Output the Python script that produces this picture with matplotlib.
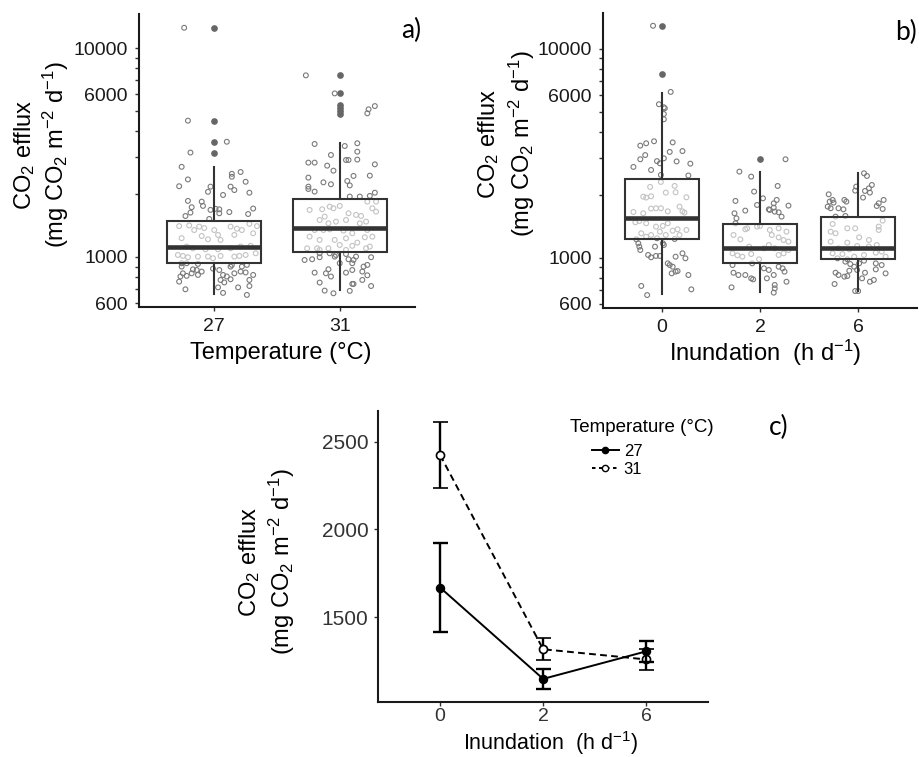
import matplotlib
matplotlib.use('Agg')
import matplotlib.pyplot as plt
from matplotlib.lines import Line2D
from matplotlib.ticker import FixedLocator, FixedFormatter, NullLocator

W, H = 919, 757
plt.rcParams['font.family'] = ['Liberation Sans', 'DejaVu Sans']
plt.rcParams['mathtext.fontset'] = 'custom'
plt.rcParams['mathtext.rm'] = 'Liberation Sans'
plt.rcParams['mathtext.it'] = 'Liberation Sans:italic'
plt.rcParams['mathtext.bf'] = 'Liberation Sans:bold'

# ---------------- data ----------------
temp_levels = ['27', '31']
inund_levels = ['0', '2', '6']

# box statistics (panel a: by temperature)
temp_whislo = [666, 695]
temp_q1 = [936, 1060]
temp_med = [1117, 1377]
temp_q3 = [1487, 1900]
temp_whishi = [2700, 3525]
temp_outliers = [[12500, 4490, 3565, 3155], [7400, 6065, 5320, 5140, 5000, 4850]]

# box statistics (panel b: by inundation)
inund_whislo = [668, 683, 693]
inund_q1 = [1228, 940, 983]
inund_med = [1545, 1109, 1109]
inund_q3 = [2372, 1455, 1566]
inund_whishi = [6180, 2578, 2535]
inund_outliers = [[12900, 7570], [2960], []]

# individual observations (value, jitter offset)
a27_vals = [12500, 4490, 3560, 3160, 2700, 2180, 2350, 2500, 2550, 2420, 2290, 2170, 2050, 2170, 2090, 1980, 2030,
            1855, 1840, 1755, 1730, 1630, 1680, 1700, 1690, 1640, 1618, 1605, 1705, 1570, 1520,
            1405, 1415, 1397, 1375, 1345, 1230, 1260, 1215, 1275, 1206, 1397, 1365, 1345, 1440, 1298, 1405, 1345,
            1275, 1121, 1100, 1088, 1088, 1100, 1121, 1130, 1041, 1022, 1011, 997, 1004, 1004, 1011, 1004, 1011,
            1022, 933, 926, 916, 986,
            899, 835, 806, 812, 866, 851, 820, 879, 866, 820, 806, 782, 835, 851, 843, 820, 776, 762, 835, 700,
            715, 673, 715, 726, 658, 899, 899, 916, 776, 755, 933, 872]
a27_jit = [-0.24, -0.21, 0.10, -0.19, -0.26, -0.28, -0.21, 0.14, 0.21, 0.14, 0.25, -0.03, -0.05, 0.13, 0.16, 0.07, 0.28,
           -0.21, -0.10, -0.09, -0.18, -0.19, -0.03, 0.01, 0.04, 0.12, 0.04, 0.27, 0.31, -0.23, -0.04,
           -0.28, -0.20, -0.12, -0.08, -0.16, -0.26, -0.10, -0.05, 0.03, 0.05, 0.13, 0.18, 0.22, 0.28, 0.31, 0.34, 0.00,
           0.16, -0.22, -0.17, -0.07, 0.03, 0.13, 0.21, 0.29, 0.33, -0.29, -0.25, -0.21, -0.13, -0.05, 0.05, 0.16, 0.20,
           0.25, -0.22, -0.13, 0.26, -0.01,
           -0.26, -0.25, -0.27, -0.22, -0.14, -0.10, -0.13, -0.01, 0.04, 0.07, 0.10, 0.13, 0.16, 0.21, 0.25, 0.31, 0.28,
           -0.28, -0.18, -0.23, 0.03, 0.07, 0.19, 0.28, 0.26, 0.13, 0.22, 0.14, 0.05, 0.08, -0.26, -0.17]

a31_vals = [7400, 4870, 5090, 5275, 6065, 3473, 3396, 3500, 3190, 3076, 2911, 2911, 2925, 2828, 2828, 2775, 2735,
            2588, 2397, 2276, 2228, 2442, 2310, 2200, 2450, 2170, 2115, 2055, 2030, 1960, 1945, 1945, 1840, 1840,
            1679, 1691, 1741, 1710, 1754, 1618, 1589, 1571, 1710, 1648, 1503, 1560, 1449, 1476, 1503, 1449, 1476,
            1346, 1346, 1356, 1337, 1298, 1346, 1251, 1242, 1251, 1206, 1206, 1228, 1171, 1121, 1100, 1100, 1100,
            1141, 1130, 1100, 1080, 1080,
            1041, 1041, 1022, 1033, 1004, 997, 967, 975, 997, 1004, 975, 967, 933, 933, 899, 916, 841, 873, 835,
            806, 841, 866, 851, 817, 754, 743, 776, 726, 690, 670, 688, 743]
a31_jit = [-0.27, 0.22, 0.23, 0.28, -0.04, -0.20, 0.04, 0.14, 0.14, -0.07, 0.05, 0.07, 0.14, -0.25, -0.20, 0.28, -0.10,
           -0.05, -0.25, -0.13, -0.07, 0.11, 0.06, 0.08, 0.24, -0.25, -0.25, -0.20, 0.28, 0.24, 0.08, 0.16, 0.29, 0.22,
           -0.24, -0.14, -0.08, -0.05, 0.00, 0.07, 0.13, 0.17, 0.26, 0.29, -0.16, -0.12, -0.09, -0.03, 0.05, 0.16, 0.21,
           -0.20, -0.13, -0.08, 0.03, 0.10, 0.22, 0.26, 0.20, -0.24, -0.16, -0.04, 0.05, 0.14, 0.24, -0.26, -0.18, -0.09,
           0.00, 0.10, 0.21, 0.05, -0.16,
           -0.16, -0.08, -0.03, 0.05, 0.13, 0.25, -0.28, -0.22, -0.16, -0.04, 0.07, 0.11, 0.00, 0.10, 0.19, 0.22, -0.20,
           -0.09, -0.11, -0.07, 0.05, 0.10, 0.18, 0.22, -0.16, 0.10, 0.18, 0.25, -0.12, -0.05, 0.08, 0.11]

b0_vals = [12900, 6220, 5430, 5250, 5196, 4875, 4600, 3440, 3530, 3610, 3565, 3210, 3240, 2960, 3100, 2900, 2990,
           2830, 2890, 2820, 2720, 2630, 2490, 2475,
           2305, 2182, 1960, 1940, 1967, 2049, 2206, 1946, 2056, 1655, 1631, 1718, 1724, 1724, 1667, 1756, 1667, 1643,
           1477, 1499, 1461, 1408, 1419, 1461, 1347, 1367, 1357, 1308, 1260, 1332, 1284, 1284, 1284, 1229, 1238, 1224,
           1171, 1129, 1088, 1030, 1004, 1019, 1019, 1129, 1150, 1011, 1049, 993, 939, 922, 905, 857, 863, 841, 826,
           732, 662, 705, 1171]
b0_jit = [-0.09, 0.09, -0.03, 0.02, 0.03, 0.02, 0.02, -0.22, -0.16, -0.08, 0.11, 0.08, 0.21, -0.22, -0.17, -0.05, 0.02,
          -0.02, 0.15, 0.29, -0.29, -0.11, -0.01, 0.27,
          -0.01, -0.12, -0.19, -0.16, -0.11, 0.04, 0.13, 0.25, 0.14, -0.29, -0.19, -0.11, -0.06, -0.01, 0.06, 0.18, 0.21,
          0.23, -0.27, -0.23, -0.16, -0.06, 0.01, 0.06, 0.11, 0.16, 0.25, -0.21, -0.16, -0.02, 0.04, 0.18, -0.11, 0.13,
          -0.05, -0.26,
          -0.24, -0.23, -0.22, -0.14, -0.11, -0.06, -0.02, -0.07, 0.02, 0.14, 0.21, 0.24, 0.06, 0.08, 0.11, 0.14, 0.16,
          0.10, 0.27, -0.21, -0.15, 0.30, 0.01]

b2_vals = [2960, 2583, 2444, 2205, 2072, 1924, 1869, 1631, 1680, 1788, 1704, 1692, 1736, 1821, 1890, 1661, 1649, 1775,
           1572, 1543,
           1461, 1367, 1284, 1224, 1382, 1408, 1419, 1357, 1382, 1332, 1284, 1251, 1215, 1193, 1049, 1026, 1011, 1041,
           982, 1150, 1030, 1049, 1088, 1129, 1108, 1108,
           922, 847, 826, 826, 796, 787, 889, 873, 826, 796, 740, 713, 905, 889, 857, 767, 721, 680, 939]
b2_jit = [0.26, -0.21, -0.09, 0.18, -0.06, 0.03, -0.25, -0.26, -0.15, -0.03, 0.09, 0.10, 0.14, 0.14, 0.17, 0.15, 0.19,
          0.29, 0.22, -0.24,
          -0.25, -0.15, -0.27, -0.20, -0.13, -0.03, 0.00, 0.10, 0.19, 0.27, 0.12, 0.19, 0.24, 0.29, -0.28, -0.23, -0.18,
          -0.09, -0.01, 0.09, 0.19, 0.24, 0.29, -0.11, 0.04, 0.15,
          -0.28, -0.27, -0.22, -0.15, -0.09, -0.07, 0.04, 0.09, 0.14, 0.07, 0.15, 0.15, 0.19, 0.23, 0.25, 0.27, -0.29,
          0.14, -0.08]

b6_vals = [2536, 2462, 2229, 2149, 2087, 2094, 2189, 2049, 2011, 1890, 1855, 1835, 1890, 1855, 1704, 1821, 1890, 1768,
           1711, 1940, 1724, 1724, 1756,
           1572, 1584, 1450, 1332, 1308, 1382, 1382, 1408, 1504, 1357, 1193, 1180, 1251, 1215, 1150, 1108, 1096, 1137,
           1129, 1011, 1049, 1041, 1011, 1030, 1057, 1069, 993, 982,
           957, 932, 905, 939, 967, 939, 922, 847, 826, 811, 817, 873, 796, 847, 767, 782, 879, 841, 748, 692, 692, 866]
b6_jit = [0.06, 0.09, 0.14, 0.11, 0.07, -0.03, -0.02, 0.12, -0.30, -0.26, -0.29, -0.25, -0.14, -0.12, -0.15, 0.21, 0.26,
          0.19, 0.25, 0.05, -0.28, -0.20, -0.31,
          -0.23, -0.13, -0.26, -0.28, -0.23, -0.11, -0.03, 0.21, 0.25, 0.21, -0.28, -0.11, 0.01, 0.11, 0.19, -0.20, -0.09,
          -0.01, 0.11, 0.28, -0.26, -0.16, -0.04, 0.06, 0.18, 0.24, -0.21, -0.11,
          -0.13, -0.08, -0.04, 0.01, 0.06, 0.18, 0.24, -0.23, -0.20, -0.14, -0.11, -0.01, 0.04, 0.07, 0.12, 0.16, 0.18,
          0.28, -0.24, 0.00, -0.03, -0.09]

# panel c: mean +- SE by inundation and temperature
mean27 = [1668, 1147, 1304]
se27 = [252, 56, 60]
mean31 = [2424, 1316, 1258]
se31 = [188, 62, 58]

log_ticks = [600, 700, 800, 900, 1000, 2000, 3000, 4000, 5000, 6000, 7000, 8000, 9000, 10000]
log_labels = ['600', '', '', '', '1000', '', '', '', '', '6000', '', '', '', '10000']

# ---------------- figure ----------------
fig = plt.figure(figsize=(W / 100, H / 100), dpi=100)


def px_axes(l, t, r, b):
    return fig.add_axes([l / W, 1 - b / H, (r - l) / W, (b - t) / H])


def ftext(x, y, s, **kw):
    fig.text(x / W, 1 - y / H, s, **kw)


def style_axes(ax, tick_color='#1a1a1a', fs=14, pad=5):
    for sp in ['top', 'right']:
        ax.spines[sp].set_visible(False)
    for sp in ['left', 'bottom']:
        ax.spines[sp].set_linewidth(1.5)
        ax.spines[sp].set_color('#1a1a1a')
    ax.tick_params(axis='both', which='major', length=3, width=1, color='#333333',
                   labelsize=fs, labelcolor=tick_color, pad=pad)


def box_panel(ax, levels, whislo, q1, med, q3, whishi, outliers, pts_vals, pts_jit, ylim):
    for i, (vals, jit) in enumerate(zip(pts_vals, pts_jit)):
        ax.scatter([i + j for j in jit], vals, s=12, facecolors='none', edgecolors='#7a7a7a',
                   linewidths=0.8, zorder=2)
    stats = []
    for i in range(len(levels)):
        stats.append(dict(med=med[i], q1=q1[i], q3=q3[i], whislo=whislo[i], whishi=whishi[i],
                          fliers=outliers[i]))
    ax.bxp(stats, positions=list(range(len(levels))), widths=0.75, showcaps=False, patch_artist=True,
           boxprops=dict(facecolor=(1, 1, 1, 0.55), edgecolor='#333333', linewidth=1.5),
           medianprops=dict(color='#333333', linewidth=3.3, solid_capstyle='butt'),
           whiskerprops=dict(color='#333333', linewidth=1.5),
           flierprops=dict(marker='o', markerfacecolor='#666666', markeredgecolor='#666666',
                           markersize=3.8, linestyle='none'),
           zorder=3)
    ax.set_yscale('log')
    ax.set_ylim(*ylim)
    ax.set_xlim(-0.6, len(levels) - 0.4)
    ax.yaxis.set_major_locator(FixedLocator(log_ticks))
    ax.yaxis.set_major_formatter(FixedFormatter(log_labels))
    ax.yaxis.set_minor_locator(NullLocator())
    ax.set_xticks(list(range(len(levels))))
    ax.set_xticklabels(levels)
    style_axes(ax)


ylab1 = 'CO$_2$ efflux'
ylab2 = '(mg CO$_2$ m$^{-2}$ d$^{-1}$)'

# panel a
axa = px_axes(139, 14, 415, 307)
box_panel(axa, temp_levels, temp_whislo, temp_q1, temp_med, temp_q3, temp_whishi, temp_outliers,
          [a27_vals, a31_vals], [a27_jit, a31_jit], (576, 14550))
ftext(25, 155, ylab1, rotation=90, ha='center', va='center', fontsize=17)
ftext(56, 155, ylab2, rotation=90, ha='center', va='center', fontsize=17)
ftext(281, 353, 'Temperature (°C)', ha='center', va='center', fontsize=17)
ftext(411, 30, 'a)', ha='center', va='center', fontsize=19, family=['Lato', 'DejaVu Sans'])

# panel b
axb = px_axes(603, 12.7, 917, 308)
box_panel(axb, inund_levels, inund_whislo, inund_q1, inund_med, inund_q3, inund_whishi, inund_outliers,
          [b0_vals, b2_vals, b6_vals], [b0_jit, b2_jit, b6_jit], (574, 14900))
ftext(489, 144, ylab1, rotation=90, ha='center', va='center', fontsize=17)
ftext(522, 144, ylab2, rotation=90, ha='center', va='center', fontsize=17)
ftext(765, 353, 'Inundation  (h d$^{-1}$)', ha='center', va='center', fontsize=17)
ftext(906, 32, 'b)', ha='center', va='center', fontsize=19, family=['Lato', 'DejaVu Sans'])

# panel c
axc = px_axes(378.3, 410.7, 708, 701.5)
xs = list(range(len(inund_levels)))
axc.errorbar(xs, mean31, yerr=se31, color='black', lw=1.4, dashes=(3.5, 2.2), marker='o', ms=5.8,
             mfc='white', mec='black', mew=1.2, ecolor='black', elinewidth=1.7, capsize=5.4, capthick=1.7,
             zorder=3)
axc.errorbar(xs, mean27, yerr=se27, color='black', lw=1.4, marker='o', ms=5.8, mfc='black', mec='black',
             ecolor='black', elinewidth=1.7, capsize=5.4, capthick=1.7, zorder=4)
axc.set_xlim(-0.6, 2.6)
axc.set_ylim(1018, 2677)
axc.set_yticks([1500, 2000, 2500])
axc.set_xticks(xs)
axc.set_xticklabels(inund_levels)
style_axes(axc, tick_color='#333333', fs=15, pad=4)
axc.tick_params(axis='x', pad=2, labelsize=14)
ftext(250, 562, ylab1, rotation=90, ha='center', va='center', fontsize=17)
ftext(282, 562, ylab2, rotation=90, ha='center', va='center', fontsize=17)
ftext(551, 757, 'Inundation  (h d$^{-1}$)', ha='center', va='bottom', fontsize=15.5)
ftext(779, 427, 'c)', ha='center', va='center', fontsize=19, family=['Lato', 'DejaVu Sans'])
ftext(570, 427, 'Temperature (°C)', ha='left', va='center', fontsize=13.5)

h27 = Line2D([], [], color='black', lw=1.4, marker='o', ms=4.5, mfc='black', mec='black')
h31 = Line2D([], [], color='black', lw=1.4, dashes=(1.8, 1.8), marker='o', ms=4.5, mfc='white', mec='black',
             mew=1.0)
axc.legend([h27, h31], temp_levels, loc='upper left', bbox_to_anchor=(592 / W, 1 - 444 / H),
           bbox_transform=fig.transFigure, frameon=False, fontsize=12, handlelength=1.6,
           handletextpad=0.3, labelspacing=0.15, borderpad=0, borderaxespad=0)

fig.savefig('out.png', dpi=100)
